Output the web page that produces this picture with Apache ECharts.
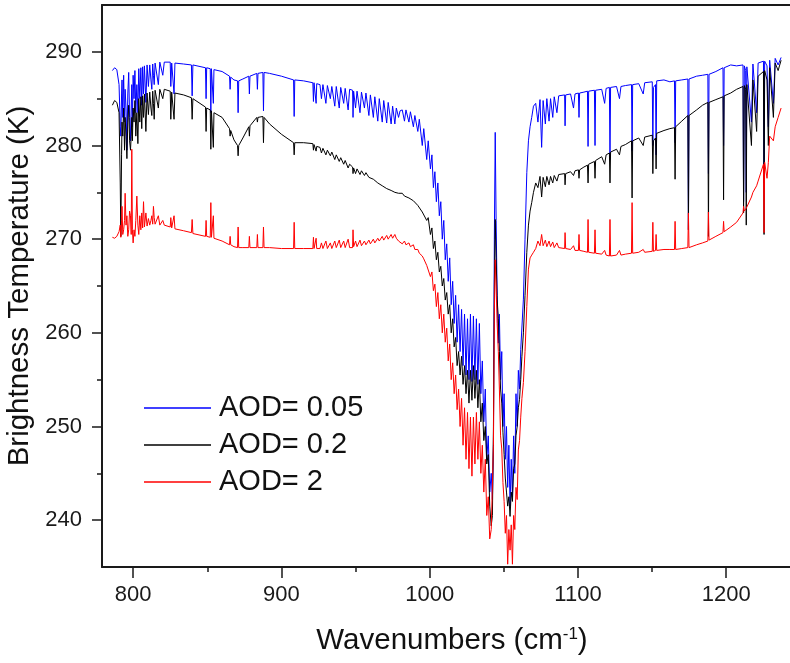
<!DOCTYPE html>
<html>
<head>
<meta charset="utf-8">
<title>Brightness Temperature</title>
<script src="https://cdn.jsdelivr.net/npm/echarts@6/dist/echarts.min.js"></script>
<style>
  html, body { margin: 0; padding: 0; background: #fff; }
  #main { width: 790px; height: 663px; }
</style>
</head>
<body>
<div id="main"></div>
<script>
// wavenumber grid (cm-1), shared by the three spectra
var wavenumber = [
  // 786-815
  786, 787.5, 789, 790.5, 791.3, 791.7, 792.2, 792.5, 793.0, 793.6, 794.2, 794.6, 795.2, 795.8, 796.4, 797.0, 797.6, 798.2, 798.7, 799.1, 799.5, 800.0,
  800.6, 801.2, 801.8, 802.5, 803.2, 803.8, 804.5, 805.2, 805.8, 806.4, 807.0, 807.6, 808.6, 809.4, 810.3, 811.2, 812.0, 812.6, 813.2, 813.7, 814.2, 814.8,
  // 815-980
  816, 817, 818, 820, 821, 825, 825.4, 826, 827.2, 827.6, 828.2, 834, 839.3, 839.8, 840.3, 848.8, 849.2, 849.6, 852.0, 852.4, 852.8, 853.7, 854.1, 854.5,
  860, 865.0, 865.4, 865.8, 868, 870.4, 870.8, 871.2, 874, 878.0, 878.4, 878.8, 883.4, 883.8, 884.2, 887.5, 887.9, 888.3, 892, 900, 908.2, 908.6, 909.0,
  915, 921.2, 921.6, 922.0, 923.0, 923.4, 923.8, 926, 927, 928, 930, 931, 933, 934, 936, 937, 939, 940, 942, 943, 945, 946, 948.0, 948.3, 948.7,
  950, 951, 953, 954, 956, 957, 959, 960, 962, 963, 965, 966, 968, 969, 971, 972, 974, 975, 976.5, 977.5, 979, 980,
  // 980-1070 (ozone band)
  981.5, 983, 984, 986, 987, 989, 990, 992, 993, 995, 996, 998, 999, 1000.5, 1001.5, 1002.5, 1003.5, 1004.5, 1005.5, 1006.5, 1007.5, 1008.5, 1009.5,
  1010.5, 1011.5, 1012.5, 1013.5, 1014.5, 1015.5, 1016.5, 1017.5, 1018.5, 1019.5, 1020.5, 1021.5, 1022.5, 1023.5, 1024.5, 1025.5, 1026.5, 1027.5,
  1028.5, 1029.5, 1030.5, 1031.5, 1032.5, 1033.5, 1034.5, 1035.5, 1036.5, 1037.5, 1038.5, 1039.5, 1040.5, 1041.5, 1042.3, 1043.0, 1043.6, 1044.2,
  1044.8, 1045.5, 1046.3, 1047.0, 1047.8, 1048.6, 1049.4, 1050.2, 1051.0, 1051.8, 1052.6, 1053.4, 1054.2, 1055.0, 1055.8, 1056.6, 1057.4, 1058.2,
  1059.0, 1059.8, 1060.6, 1061.4, 1062.2, 1063.2, 1064.3, 1065.5, 1066.6, 1067.7, 1068.8, 1070.0,
  // 1070-1237
  1071.5, 1073, 1074.4, 1075.5, 1076.5, 1078, 1079, 1080.5, 1081.5, 1083, 1084, 1085.8, 1087, 1091.0, 1091.3, 1091.7, 1095, 1097, 1098, 1100.3,
  1100.7, 1101.1, 1104, 1106.4, 1106.8, 1107.2, 1111.1, 1111.5, 1111.9, 1116, 1118, 1119, 1121.2, 1121.6, 1122.0, 1126, 1128, 1129, 1132,
  1136.1, 1136.5, 1136.9, 1141, 1144, 1145, 1150.1, 1150.5, 1150.9, 1152.3, 1152.7, 1153.1, 1158, 1162, 1165.1, 1165.5, 1165.9, 1170,
  1174.1, 1174.5, 1174.9, 1180, 1184, 1187.6, 1188.0, 1188.4, 1193, 1197.8, 1198.2, 1198.6, 1203, 1207, 1211.3, 1211.7, 1212.2, 1213.1,
  1213.5, 1213.9, 1217.0, 1218, 1220.5, 1221.5, 1225.1, 1225.5, 1225.9, 1227.5, 1228.4, 1229.3, 1231.8, 1233, 1235, 1237
];

// brightness temperature (K), AOD = 0.05
var aod005 = [
  288.0, 288.3, 288.1, 286.5, 282.0, 281.0, 285.5, 287.0, 283.0, 287.5, 282.5, 286.0, 284.0, 279.5, 285.5, 287.8, 283.0, 280.5, 284.0, 286.5, 282.0, 287.5,
  285.0, 288.0, 283.5, 286.5, 283.5, 288.2, 285.0, 288.3, 284.3, 288.4, 285.5, 288.5, 284.6, 288.6, 286.3, 288.6, 287.0, 286.0, 288.7, 287.5, 286.5, 288.8,

  288.8, 286.5, 288.9, 287.5, 288.9, 288.9, 286.3, 288.8, 288.8, 285.5, 288.8, 288.7, 288.6, 285.3, 288.6, 288.3, 285.0, 288.3, 288.2, 283.5, 288.2, 288.2, 284.5, 288.1,
  287.9, 287.4, 286.0, 287.3, 287.0, 286.9, 283.5, 286.9, 287.1, 287.4, 285.5, 287.4, 287.7, 286.0, 287.7, 287.8, 283.7, 287.8, 287.7, 287.4, 287.0, 283.1, 287.0,
  286.9, 286.7, 284.7, 286.7, 286.7, 284.5, 286.6, 286.5, 285.0, 286.5, 284.5, 286.4, 285.0, 286.3, 284.2, 286.3, 284.0, 286.2, 284.5, 286.1, 283.8, 286.0, 285.9, 283.0, 285.8,
  284.0, 285.8, 283.5, 285.7, 284.0, 285.6, 283.2, 285.4, 283.0, 285.2, 282.6, 285.0, 282.5, 284.8, 282.4, 284.6, 282.3, 284.2, 282.3, 284.0, 283.0, 283.7,

  283.8, 282.6, 283.8, 282.5, 283.6, 282.0, 283.2, 281.5, 282.8, 280.0, 281.8, 278.5, 280.5, 277.5, 279.0, 275.5, 277.2, 274.0, 276.0, 272.5, 274.0, 270.0, 272.0,
  267.8, 269.5, 265.5, 268.0, 263.0, 265.5, 261.0, 264.0, 259.0, 263.0, 258.0, 262.5, 256.5, 262.0, 255.5, 261.5, 255.0, 262.0,
  254.8, 261.8, 255.0, 261.5, 254.5, 261.0, 253.5, 257.0, 250.5, 254.0, 246.5, 249.0, 243.0, 245.0, 242.2, 248.0, 270.0, 281.4,
  272.0, 264.0, 258.9, 262.0, 255.0, 258.0, 250.0, 253.5, 246.5, 250.0, 243.5, 248.0, 241.5, 246.5, 242.5, 249.0, 245.0, 253.5,
  250.0, 256.0, 254.0, 258.2, 258.0, 263.6, 270.0, 277.1, 280.5, 282.0, 283.0, 284.2,

  284.5, 282.5, 284.9, 279.8, 284.8, 282.3, 285.0, 282.6, 285.0, 283.0, 285.2, 283.5, 285.3, 285.4, 282.1, 285.4, 285.5, 284.0, 285.5, 285.6,
  283.0, 285.6, 285.7, 285.8, 279.9, 285.8, 285.9, 280.0, 285.9, 286.0, 284.5, 286.1, 286.2, 278.5, 286.2, 286.3, 285.0, 286.3, 286.4,
  286.5, 279.4, 286.5, 286.6, 285.5, 286.7, 286.8, 280.0, 286.2, 286.5, 279.0, 286.9, 287.0, 286.8, 286.9, 280.3, 286.9, 287.0,
  287.1, 271.0, 287.1, 287.4, 287.5, 287.6, 277.0, 287.6, 287.9, 288.3, 280.0, 288.3, 288.6, 288.5, 288.6, 274.0, 288.5, 288.0,
  275.0, 288.4, 282.5, 288.7, 283.5, 288.8, 289.0, 276.0, 289.0, 288.5, 282.0, 289.1, 284.5, 289.3, 288.6, 289.4
];

// brightness temperature (K), AOD = 0.2
var aod02 = [
  284.3, 284.8, 284.6, 283.5, 276.0, 270.3, 279.0, 282.5, 281.0, 284.0, 279.5, 283.0, 281.0, 278.6, 282.5, 284.3, 280.5, 279.5, 281.0, 283.0, 280.5, 284.0,
  282.5, 284.8, 281.0, 283.5, 280.2, 285.0, 282.5, 285.2, 281.8, 285.3, 283.0, 285.5, 281.5, 285.6, 283.3, 285.7, 284.0, 283.2, 285.8, 284.5, 282.8, 285.9,

  286.0, 284.0, 286.0, 285.0, 286.0, 285.8, 282.8, 285.7, 285.6, 282.8, 285.6, 285.4, 285.1, 282.8, 285.0, 284.1, 281.5, 284.0, 283.8, 279.6, 283.7, 283.6, 279.8, 283.5,
  283.0, 281.8, 281.0, 281.6, 280.6, 280.0, 278.9, 280.0, 280.8, 282.0, 281.0, 282.1, 283.0, 282.5, 283.0, 283.1, 280.3, 283.0, 282.3, 281.2, 280.3, 279.0, 280.3,
  280.3, 280.2, 279.5, 280.1, 280.0, 279.4, 279.9, 279.8, 279.2, 279.7, 279.0, 279.5, 278.9, 279.3, 278.5, 279.0, 278.3, 278.7, 278.0, 278.4, 277.6, 278.0, 277.7, 277.0, 277.6,
  277.0, 277.5, 276.9, 277.3, 276.8, 277.1, 276.6, 276.8, 276.4, 276.6, 276.0, 276.2, 275.7, 275.9, 275.4, 275.6, 275.2, 275.4, 275.0, 275.2, 274.9, 275.0,

  274.9, 274.6, 274.7, 274.4, 274.5, 274.1, 274.1, 273.6, 273.6, 272.9, 273.0, 272.0, 272.3, 270.5, 271.2, 269.0, 269.8, 267.8, 268.6, 266.5, 267.1, 265.0, 265.8,
  263.5, 264.3, 262.0, 263.0, 260.0, 261.5, 258.5, 259.5, 256.5, 258.0, 255.5, 257.5, 254.5, 256.5, 253.5, 256.0, 252.5, 256.0,
  252.8, 256.5, 253.0, 256.0, 252.0, 255.0, 250.5, 252.5, 248.5, 250.0, 246.0, 247.0, 241.5, 239.4, 240.5, 250.0, 265.0, 272.1,
  268.0, 263.6, 261.5, 258.0, 254.0, 252.5, 249.4, 247.0, 244.5, 243.0, 241.5, 242.5, 240.4, 243.0, 242.0, 245.5, 246.0, 249.0,
  250.0, 252.0, 252.9, 255.0, 257.5, 260.0, 264.0, 268.6, 271.5, 273.0, 273.9, 275.0,

  276.0, 275.5, 276.7, 274.5, 276.6, 275.6, 276.7, 275.8, 276.7, 276.0, 276.8, 276.2, 276.9, 277.0, 275.8, 277.0, 277.2, 276.8, 277.3, 277.4,
  276.5, 277.4, 277.7, 277.9, 276.0, 278.0, 278.3, 276.5, 278.4, 278.8, 278.0, 279.0, 279.2, 276.0, 279.3, 279.6, 279.0, 279.9, 280.1,
  280.5, 274.4, 280.5, 280.8, 280.0, 280.9, 281.1, 277.0, 280.5, 280.8, 277.5, 281.3, 281.6, 281.8, 281.9, 276.4, 282.0, 282.6,
  283.2, 271.0, 283.2, 283.8, 284.3, 284.6, 270.3, 284.6, 284.9, 285.2, 274.2, 285.3, 285.6, 286.0, 286.3, 272.8, 286.4, 286.0,
  271.5, 286.5, 280.0, 287.0, 281.5, 287.4, 287.9, 270.5, 288.0, 287.0, 280.0, 288.3, 283.0, 288.8, 288.0, 289.1
];

// brightness temperature (K), AOD = 2
var aod2 = [
  270.2, 270.1, 270.3, 270.8, 271.5, 270.2, 272.0, 273.5, 270.5, 271.0, 272.0, 274.9, 271.5, 272.5, 270.3, 271.0, 273.0, 272.5, 270.5, 279.6, 271.0, 269.6,
  271.0, 270.3, 272.0, 274.6, 271.5, 270.5, 272.5, 271.0, 272.8, 271.2, 274.0, 271.3, 272.8, 271.4, 272.2, 271.5, 272.0, 272.5, 271.6, 273.5, 272.3, 271.6,

  271.5, 272.5, 271.5, 272.0, 271.5, 271.3, 272.3, 271.2, 271.2, 272.5, 271.1, 270.9, 270.7, 272.1, 270.6, 270.3, 272.0, 270.3, 270.2, 273.9, 270.2, 270.1, 272.5, 270.1,
  269.8, 269.4, 270.3, 269.4, 269.2, 269.1, 271.3, 269.1, 269.1, 269.1, 270.3, 269.1, 269.1, 270.5, 269.1, 269.1, 271.3, 269.1, 269.1, 269.0, 269.0, 271.8, 269.0,
  269.0, 269.0, 270.2, 269.0, 269.0, 270.1, 269.0, 269.0, 269.6, 269.0, 269.8, 269.0, 269.6, 269.0, 269.8, 269.1, 269.9, 269.1, 269.8, 269.1, 270.0, 269.1, 269.1, 271.0, 269.2,
  269.8, 269.2, 269.9, 269.3, 269.8, 269.4, 269.9, 269.5, 270.0, 269.6, 270.1, 269.8, 270.3, 269.9, 270.4, 270.0, 270.5, 270.1, 270.5, 270.1, 269.8, 269.6,

  269.5, 269.8, 269.4, 269.6, 269.2, 269.4, 268.9, 268.9, 268.5, 268.2, 267.9, 267.2, 267.3, 266.0, 266.5, 264.5, 265.2, 262.8, 264.3, 261.5, 263.0, 260.0, 262.0,
  259.0, 260.5, 257.0, 258.8, 255.0, 256.8, 253.5, 255.5, 251.8, 254.0, 250.0, 253.0, 248.0, 252.0, 246.5, 251.5, 245.5, 251.0,
  244.7, 251.0, 246.0, 251.5, 246.5, 250.5, 245.0, 248.0, 243.0, 246.5, 240.5, 242.5, 238.0, 239.0, 239.0, 248.0, 262.0, 267.8,
  265.0, 261.0, 258.0, 254.0, 249.0, 247.6, 244.0, 242.0, 238.6, 240.5, 235.3, 239.0, 236.8, 239.5, 235.3, 240.5, 239.0, 243.5,
  242.2, 247.5, 248.5, 251.0, 253.0, 254.7, 258.0, 262.8, 266.8, 268.0, 268.3, 268.6,

  269.0, 269.8, 269.3, 270.5, 269.3, 269.9, 269.2, 269.8, 269.2, 269.7, 269.1, 269.6, 269.1, 269.0, 270.7, 269.0, 268.9, 269.3, 268.8, 268.8,
  270.5, 268.8, 268.7, 268.6, 272.1, 268.6, 268.5, 271.0, 268.5, 268.4, 268.8, 268.3, 268.2, 272.1, 268.2, 268.3, 268.8, 268.3, 268.4,
  268.5, 273.9, 268.5, 268.6, 268.9, 268.6, 268.7, 271.8, 268.7, 268.8, 270.5, 268.8, 268.9, 268.9, 268.9, 271.9, 268.9, 269.0,
  269.1, 272.8, 269.1, 269.4, 269.6, 269.8, 272.9, 269.9, 270.3, 270.7, 271.9, 270.8, 271.3, 271.8, 272.8, 273.5, 273.0, 273.2,
  273.3, 273.4, 274.5, 275.0, 275.7, 276.2, 278.0, 270.7, 278.2, 276.5, 278.2, 281.0, 280.5, 282.0, 283.0, 284.0
];

var seriesNames = ['AOD= 0.05', 'AOD= 0.2', 'AOD= 2'];
var seriesColors = ['#0000ff', '#000000', '#ff0000'];
var xMajorTicks = [800, 900, 1000, 1100, 1200];
var xMinorTicks = [850, 950, 1050, 1150];
var yMajorTicks = [240, 250, 260, 270, 280, 290];
var yMinorTicks = [245, 255, 265, 275, 285];

[aod005, aod02, aod2].forEach(function (arr, i) {
  if (arr.length !== wavenumber.length) {
    throw new Error('length mismatch in series ' + i + ': ' + arr.length + ' vs ' + wavenumber.length);
  }
});

function pairs(vals) {
  return wavenumber.map(function (w, i) { return [w, vals[i]]; });
}

var font = 'Liberation Sans, Arial, sans-serif';
var axisColor = '#1a1a1a';
var xMin = 779, xMax = 1243, yMin = 235, yMax = 295;
var plainNumber = function (v) { return String(v); };

var myChart = echarts.init(document.getElementById('main'));
var option = {
  animation: false,
  backgroundColor: '#fff',
  grid: { left: 102, right: 0, top: 5, bottom: 96, containLabel: false, outerBoundsMode: 'none' },
  legend: {
    orient: 'vertical',
    left: 144,
    top: 393,
    padding: 0,
    icon: 'rect',
    itemWidth: 67,
    itemHeight: 1.5,
    itemGap: 7,
    textStyle: { fontSize: 29, lineHeight: 30, color: '#111', fontFamily: font, padding: [0, 0, 0, 3] },
    data: seriesNames
  },
  xAxis: [{
    type: 'value',
    min: xMin, max: xMax,
    position: 'bottom',
    splitLine: { show: false },
    axisLine: { show: true, onZero: false, lineStyle: { color: axisColor, width: 2 } },
    axisTick: { show: true, customValues: xMajorTicks, length: 11, lineStyle: { color: axisColor, width: 1.5 } },
    axisLabel: { customValues: xMajorTicks, formatter: plainNumber, fontSize: 22, color: '#1a1a1a', fontFamily: font, margin: 17 },
    name: 'Wavenumbers (cm{sup|-1})',
    nameLocation: 'middle',
    nameGap: 59,
    nameTextStyle: {
      fontSize: 29.5, color: '#111', fontFamily: font, padding: [0, 0, 0, 12],
      rich: { sup: { fontSize: 17, color: '#111', fontFamily: font, verticalAlign: 'top', padding: [0, 0, 12, 0] } }
    }
  }, {
    type: 'value',
    min: xMin, max: xMax,
    position: 'bottom',
    splitLine: { show: false },
    axisLine: { show: false },
    axisTick: { show: true, customValues: xMinorTicks, length: 5, lineStyle: { color: axisColor, width: 1.5 } },
    axisLabel: { show: false }
  }, {
    type: 'value',
    min: xMin, max: xMax,
    position: 'top',
    splitLine: { show: false },
    axisLine: { show: true, onZero: false, lineStyle: { color: axisColor, width: 2 } },
    axisTick: { show: false },
    axisLabel: { show: false }
  }],
  yAxis: [{
    type: 'value',
    min: yMin, max: yMax,
    position: 'left',
    splitLine: { show: false },
    axisLine: { show: true, onZero: false, lineStyle: { color: axisColor, width: 2 } },
    axisTick: { show: true, customValues: yMajorTicks, length: 10, lineStyle: { color: axisColor, width: 1.5 } },
    axisLabel: { customValues: yMajorTicks, formatter: plainNumber, fontSize: 22, color: '#1a1a1a', fontFamily: font, margin: 20 },
    name: 'Brightness Temperature (K)',
    nameLocation: 'middle',
    nameGap: 58,
    nameTextStyle: { fontSize: 29.5, color: '#111', fontFamily: font }
  }, {
    type: 'value',
    min: yMin, max: yMax,
    position: 'left',
    splitLine: { show: false },
    axisLine: { show: false },
    axisTick: { show: true, customValues: yMinorTicks, length: 5, lineStyle: { color: axisColor, width: 1.5 } },
    axisLabel: { show: false }
  }],
  series: [aod005, aod02, aod2].map(function (vals, i) {
    return {
      name: seriesNames[i],
      type: 'line',
      xAxisIndex: 0,
      yAxisIndex: 0,
      data: pairs(vals),
      symbol: 'none',
      clip: true,
      color: seriesColors[i],
      lineStyle: { color: seriesColors[i], width: 1 }
    };
  })
};
myChart.setOption(option);
</script>
</body>
</html>
